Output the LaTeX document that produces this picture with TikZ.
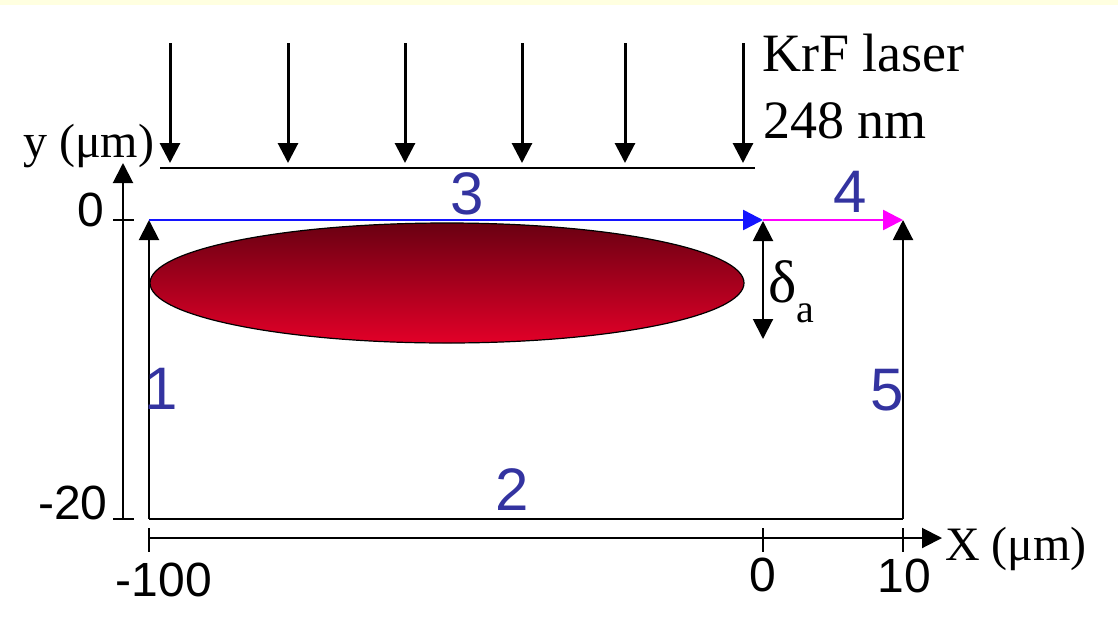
\documentclass[tikz,border=0pt]{standalone}
\usepackage{fontspec}
\setmainfont{Liberation Serif}
\newfontfamily\arialfont{Liberation Sans}
\usetikzlibrary{arrows.meta}
\definecolor{bandyellow}{RGB}{255,255,224}
\definecolor{numblue}{RGB}{51,51,160}
\definecolor{linkblue}{RGB}{20,20,255}
\definecolor{linkmag}{RGB}{255,0,255}
\definecolor{darkred}{RGB}{106,0,18}
\definecolor{brightred}{RGB}{226,0,40}
\tikzset{
  tip/.style={-{Triangle[width=20pt,length=20pt]}},
  laserarrow/.style={tip, line width=3pt},
  edge/.style={line width=2pt},
  numlabel/.style={font=\arialfont\fontsize{60}{60}\selectfont, text=numblue, inner sep=0pt},
  ticklabel/.style={font=\arialfont\fontsize{48}{48}\selectfont, inner sep=0pt},
  seriflabel/.style={font=\fontsize{54}{60}\selectfont, inner sep=0pt},
  axislabel/.style={font=\fontsize{48}{52}\selectfont, inner sep=0pt}
}
\begin{document}
\begin{tikzpicture}[x=1pt, y=-1pt]
\useasboundingbox (0,0) rectangle (1118,619);
\fill[bandyellow] (0,0) rectangle (1118,5);

% laser arrows
\foreach \i/\xx in {1/170, 2/288, 3/405, 4/522, 5/625, 6/743} {
  \coordinate (lt\i) at (\xx,43);
  \coordinate (lb\i) at (\xx,163);
  \draw[laserarrow] (lt\i) -- (lb\i);
}
\coordinate (surfL) at (160,168);
\coordinate (surfR) at (755,168);
\draw[edge] (surfL) -- (surfR);

\node[seriflabel, anchor=base west] (krf) at (762,71) {KrF laser};
\node[seriflabel, anchor=base west] (wl) at (763,138) {248 nm};

% ellipse (ablated region)
\shade[top color=darkred, bottom color=brightred, draw=black, line width=1.2pt]
  (447,283) ellipse [x radius=297, y radius=60];

% domain corners
\coordinate (A) at (149,519);
\coordinate (B) at (903,519);
\coordinate (TL) at (149,220);
\coordinate (S) at (763,220);
\coordinate (TR) at (903,220);

\draw[edge] (A) -- (B);
\draw[edge, tip] (A) -- (TL);
\draw[edge, tip] (B) -- (TR);
\draw[line width=2.5pt, linkblue, tip] (TL) -- (S);
\draw[line width=2.5pt, linkmag, tip] (S) -- (TR);

% delta_a
\coordinate (dt) at (763,221);
\coordinate (db) at (763,339);
\draw[edge, {Triangle[width=20pt,length=20pt]}-{Triangle[width=20pt,length=20pt]}] (dt) -- (db);
\node[font=\fontsize{60}{60}\selectfont, inner sep=0pt, anchor=base west] (delta) at (768,302)
  {δ\raisebox{-20pt}{\fontsize{40}{40}\selectfont a}};

% y axis
\coordinate (yb) at (123,519);
\coordinate (yt) at (123,163);
\draw[edge, tip] (yb) -- (yt);
\coordinate (yt0a) at (113,220); \coordinate (yt0b) at (134,220);
\coordinate (yt1a) at (113,519); \coordinate (yt1b) at (134,519);
\draw[edge] (yt0a) -- (yt0b);
\draw[edge] (yt1a) -- (yt1b);
\node[ticklabel] (y0) at (91,210) {0};
\node[ticklabel] (y20) at (73,503) {-20};
\node[axislabel, anchor=base west] (ylab) at (23,157) {y (μm)};

% x axis
\coordinate (xl) at (149,538);
\coordinate (xr) at (942,538);
\draw[edge, tip] (xl) -- (xr);
\foreach \i/\xx in {1/149, 2/763, 3/903} {
  \coordinate (xt\i a) at (\xx,528);
  \coordinate (xt\i b) at (\xx,552);
  \draw[edge] (xt\i a) -- (xt\i b);
}
\node[ticklabel] (x100) at (164,580) {-100};
\node[ticklabel] (x0) at (763,575) {0};
\node[ticklabel] (x10) at (904,576) {10};
\node[axislabel, anchor=base west] (xlab) at (945,560) {X (μm)};

% boundary numbers
\node[numlabel] (n1) at (161,389) {1};
\node[numlabel] (n2) at (512,490) {2};
\node[numlabel] (n3) at (467,194) {3};
\node[numlabel] (n4) at (850,192) {4};
\node[numlabel] (n5) at (887,390) {5};
\end{tikzpicture}
\end{document}
